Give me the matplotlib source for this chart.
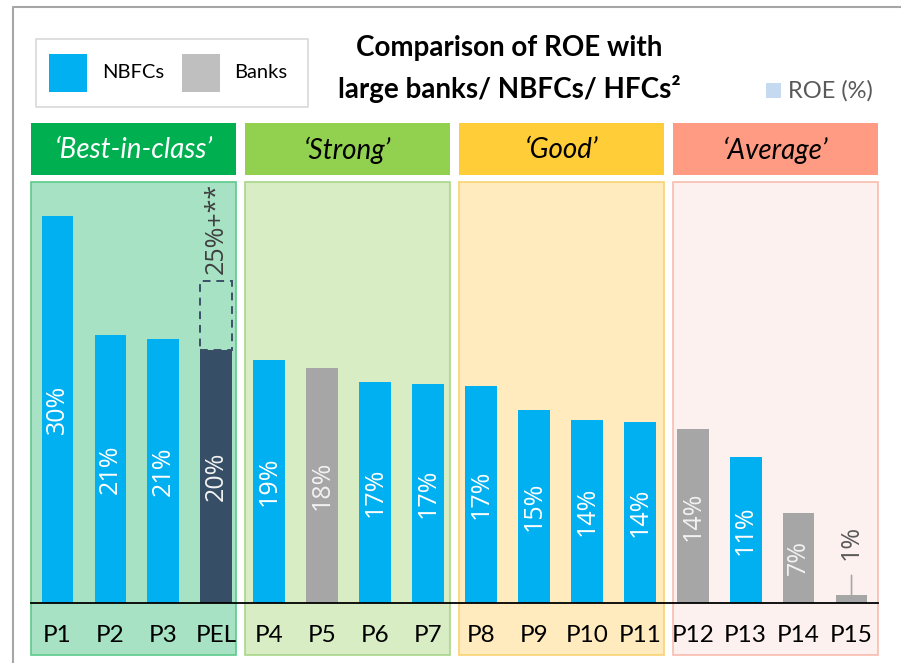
import matplotlib.pyplot as plt
from matplotlib.patches import Rectangle

#======#
# Data #
#======#

names = ['P1', 'P2', 'P3', 'PEL', 'P4', 'P5', 'P6', 'P7',
         'P8', 'P9', 'P10', 'P11', 'P12', 'P13', 'P14', 'P15']
roe = [30.0, 20.8, 20.5, 19.6, 18.8, 18.2, 17.1, 17.0,
       16.8, 15.0, 14.2, 14.0, 13.5, 11.3, 7.0, 0.6]
roe_labels = ['30%', '21%', '21%', '20%', '19%', '18%', '17%', '17%',
              '17%', '15%', '14%', '14%', '14%', '11%', '7%', '1%']
kind = ['nbfc', 'nbfc', 'nbfc', 'pel', 'nbfc', 'bank', 'nbfc', 'nbfc',
        'nbfc', 'nbfc', 'nbfc', 'nbfc', 'bank', 'nbfc', 'bank', 'bank']
pel_target = 25.0
pel_target_label = '25%+**'

groups = ['\u2018Best-in-class\u2019', '\u2018Strong\u2019', '\u2018Good\u2019', '\u2018Average\u2019']

#========#
# Styles #
#========#

FONT = 'Lato'
LABEL_FONT = ['Open Sans', 'Lato']
bar_colors = {'nbfc': '#00B0F0', 'bank': '#A6A6A6', 'pel': '#374F66'}
label_colors = {'nbfc': 'white', 'bank': '#F2F2F2', 'pel': '#F2F2F2'}
head_colors = ['#00B050', '#92D050', '#FFCD37', '#FF9B82']
head_text = ['white', 'black', 'black', 'black']
body_colors = ['#A6E2C3', '#D8EDC4', '#FFEBBD', '#FDF1EF']
body_edges = ['#5CCB8A', '#A9D78A', '#F9D272', '#F8BCAE']

fig = plt.figure(figsize=(9.01, 6.63), dpi=100)

# background layer in pixel coordinates (top-left origin)
bg = fig.add_axes([0, 0, 1, 1])
bg.set_xlim(0, 901)
bg.set_ylim(663, 0)
bg.axis('off')

# outer frame
bg.plot([13, 13, 901], [663, 7, 7], color='#A6A6A6', lw=1.5, solid_capstyle='butt')

# legend box
bg.add_patch(Rectangle((36, 39), 272, 68, facecolor='white', edgecolor='#D9D9D9', lw=1.2))
bg.add_patch(Rectangle((49, 54), 38, 38, facecolor='#00B0F0', edgecolor='none'))
bg.add_patch(Rectangle((182, 54), 38, 38, facecolor='#BFBFBF', edgecolor='none'))
bg.text(102, 73, 'NBFCs', fontsize=14.5, family=FONT, va='center', ha='left')
bg.text(234, 73, 'Banks', fontsize=14.5, family=FONT, va='center', ha='left')

# title
bg.text(509, 56, 'Comparison of ROE with', fontsize=20, family=FONT, weight='bold',
        ha='center', va='baseline')
bg.text(509, 98, 'large banks/ NBFCs/ HFCs\u00b2', fontsize=20, family=FONT, weight='bold',
        ha='center', va='baseline')

# ROE (%) key
bg.add_patch(Rectangle((766, 83), 15, 15, facecolor='#C5D9F1', edgecolor='none'))
bg.text(788, 91, 'ROE (%)', fontsize=17, family=FONT, color='#595959', va='center', ha='left')

# group panels
for g, name in enumerate(groups):
    x0 = 31 + 214 * g
    bg.add_patch(Rectangle((x0, 123), 205, 52, facecolor=head_colors[g], edgecolor='none'))
    bg.text(x0 + 102.5, 150, name, fontsize=20, family=FONT, style='italic',
            color=head_text[g], ha='center', va='center')
    bg.add_patch(Rectangle((x0, 182), 205, 473, facecolor=body_colors[g],
                           edgecolor=body_edges[g], lw=1.2))

#===========#
# Bar chart #
#===========#

ax = fig.add_axes([31 / 901, 60 / 663, 847 / 901, 421 / 663])
ax.patch.set_visible(False)
ax.set_xlim(-0.5, len(names) - 0.5)
ax.set_ylim(0, 421 / 12.9)

x = list(range(len(names)))
ax.bar(x, roe, width=0.6, color=[bar_colors[k] for k in kind], zorder=2)

for i, (v, lab, k) in enumerate(zip(roe, roe_labels, kind)):
    if v < 3:
        ax.annotate(lab, xy=(i, v), xytext=(0, 38), textcoords='offset points',
                    rotation=90, ha='center', va='center', fontsize=18, family=LABEL_FONT,
                    color='#595959',
                    arrowprops=dict(arrowstyle='-', color='#A6A6A6', lw=1.2,
                                    shrinkA=9, shrinkB=0))
    else:
        ax.text(i, v / 2, lab, rotation=90, ha='center', va='center', fontsize=18,
                family=LABEL_FONT, color=label_colors[k])

# PEL target (dashed)
pel_i = names.index('PEL')
ax.bar(pel_i, pel_target - roe[pel_i], bottom=roe[pel_i], width=0.6, fill=False,
       edgecolor='#3B5068', linestyle=(0, (4, 3)), lw=1.4, zorder=2)
ax.annotate(pel_target_label, xy=(pel_i, pel_target), xytext=(0, 5),
            textcoords='offset points', rotation=90, ha='center', va='bottom',
            fontsize=18, family=LABEL_FONT, color='#404040')

for s in ['top', 'left', 'right']:
    ax.spines[s].set_visible(False)
ax.spines['bottom'].set_color('black')
ax.spines['bottom'].set_linewidth(1.3)
ax.set_yticks([])
ax.set_xticks(x)
ax.set_xticklabels(names, fontsize=17.5, family=FONT)
ax.tick_params(axis='x', length=0, pad=16)

plt.savefig('out.png', dpi=100)
